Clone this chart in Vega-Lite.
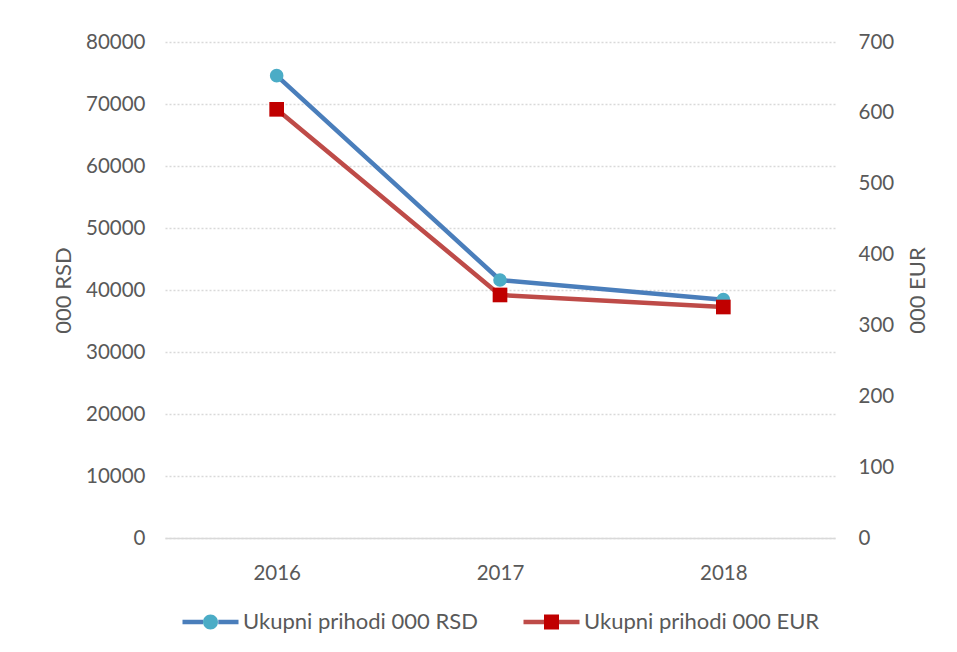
{
  "$schema": "https://vega.github.io/schema/vega-lite/v6.json",
  "width": 670,
  "height": 496,
  "padding": {"left": 52, "top": 32, "right": 10, "bottom": 5},
  "background": "white",
  "config": {
    "font": "Lato",
    "view": {"stroke": null},
    "axis": {
      "labelColor": "#595959",
      "titleColor": "#595959",
      "labelFont": "Lato",
      "titleFont": "Lato",
      "labelFontSize": 20.5,
      "titleFontSize": 22,
      "titleFontWeight": "normal",
      "ticks": false,
      "domain": false,
      "grid": false
    },
    "legend": {
      "orient": "bottom",
      "direction": "horizontal",
      "layout": {"bottom": {"anchor": "middle"}},
      "labelFont": "Lato",
      "labelFontSize": 22,
      "labelColor": "#595959",
      "labelLimit": 400,
      "symbolSize": 3136,
      "labelOffset": 2,
      "columnPadding": 36,
      "offset": 7,
      "symbolStrokeWidth": 4.5,
      "symbolDash": [20.5, 75, 20.5, 200],
      "symbolOpacity": 1
    }
  },
  "data": {
    "values": [
      {"year": "2016", "series": "Ukupni prihodi 000 RSD", "value": 74570},
      {"year": "2017", "series": "Ukupni prihodi 000 RSD", "value": 41610},
      {"year": "2018", "series": "Ukupni prihodi 000 RSD", "value": 38440},
      {"year": "2016", "series": "Ukupni prihodi 000 EUR", "value": 605},
      {"year": "2017", "series": "Ukupni prihodi 000 EUR", "value": 343},
      {"year": "2018", "series": "Ukupni prihodi 000 EUR", "value": 326}
    ]
  },
  "encoding": {
    "x": {
      "field": "year",
      "type": "ordinal",
      "scale": {"type": "point", "padding": 0.5},
      "axis": {
        "title": null,
        "labelAngle": 0,
        "domain": true,
        "domainColor": "#D9D9D9",
        "domainWidth": 1.5,
        "labelPadding": 25
      }
    }
  },
  "layer": [
    {
      "encoding": {
        "y": {
          "field": "value",
          "type": "quantitative",
          "scale": {"domain": [0, 80000], "nice": false},
          "axis": {
            "title": "000 RSD",
            "orient": "left",
            "values": [0, 10000, 20000, 30000, 40000, 50000, 60000, 70000, 80000],
            "format": "d",
            "grid": true,
            "gridColor": "#D9D9D9",
            "gridDash": [2, 2],
            "gridWidth": 1.3,
            "labelPadding": 20,
            "titlePadding": 10
          }
        }
      },
      "layer": [
        {
          "transform": [{"filter": "datum.series === 'Ukupni prihodi 000 RSD'"}],
          "mark": {"type": "line", "color": "#4A7EBB", "strokeWidth": 4.5}
        },
        {
          "transform": [{"filter": "datum.series === 'Ukupni prihodi 000 RSD'"}],
          "mark": {"type": "point", "shape": "circle", "filled": true, "color": "#4BACC6", "opacity": 1, "strokeWidth": 0, "size": 185}
        },
        {
          "mark": {"type": "point", "filled": true, "opacity": 0},
          "encoding": {
            "fill": {"field": "series", "type": "nominal", "scale": {"domain": ["Ukupni prihodi 000 RSD", "Ukupni prihodi 000 EUR"], "range": ["#4BACC6", "#C00000"]}, "legend": {"title": null}},
            "stroke": {"field": "series", "type": "nominal", "scale": {"domain": ["Ukupni prihodi 000 RSD", "Ukupni prihodi 000 EUR"], "range": ["#4A7EBB", "#BE4B48"]}, "legend": {"title": null}},
            "shape": {
              "field": "series",
              "type": "nominal",
              "scale": {
                "domain": ["Ukupni prihodi 000 RSD", "Ukupni prihodi 000 EUR"],
                "range": [
                  "M-1,0H-0.26786A0.26786,0.26786 0 1,1 0.26786,0A0.26786,0.26786 0 1,1 -0.26786,0H0.26786H0.03793H1",
                  "M-1,0H-0.26786V-0.26786H0.26786V0.26786H-0.26786V0H1"
                ]
              },
              "legend": {"title": null}
            }
          }
        }
      ]
    },
    {
      "transform": [{"filter": "datum.series === 'Ukupni prihodi 000 EUR'"}],
      "encoding": {
        "y": {
          "field": "value",
          "type": "quantitative",
          "scale": {"domain": [0, 700], "nice": false},
          "axis": {
            "title": "000 EUR",
            "orient": "right",
            "values": [0, 100, 200, 300, 400, 500, 600, 700],
            "format": "d",
            "grid": false,
            "labelPadding": 23,
            "titlePadding": 14,
            "titleAngle": 270,
            "titleBaseline": "top"
          }
        }
      },
      "layer": [
        {"mark": {"type": "line", "color": "#BE4B48", "strokeWidth": 4.5}},
        {"mark": {"type": "point", "shape": "square", "filled": true, "color": "#C00000", "opacity": 1, "strokeWidth": 0, "size": 215}}
      ]
    }
  ],
  "resolve": {"scale": {"y": "independent"}}
}
